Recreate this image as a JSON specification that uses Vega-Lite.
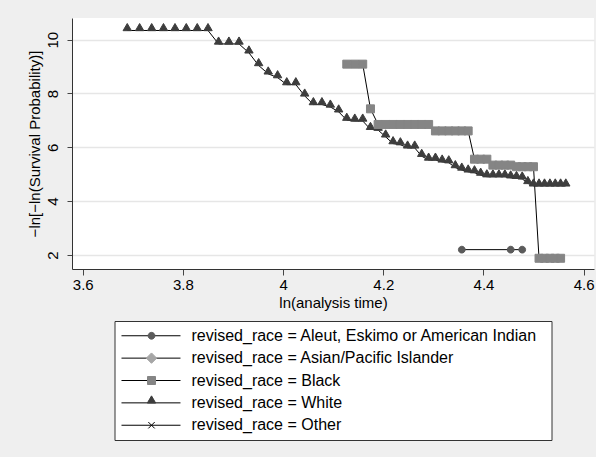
{
  "$schema": "https://vega.github.io/schema/vega-lite/v6.json",
  "background": "#efefef",
  "padding": {"left": 27, "top": 18, "right": 4, "bottom": 17},
  "bounds": "flush",
  "center": true,
  "spacing": 52,
  "config": {"font": "Liberation Sans", "view": {"stroke": null}},
  "datasets": {
    "km": [
      {"race": "White", "lnt": 3.6889, "lls": 10.34},
      {"race": "White", "lnt": 3.7136, "lls": 10.34},
      {"race": "White", "lnt": 3.7377, "lls": 10.34},
      {"race": "White", "lnt": 3.7612, "lls": 10.34},
      {"race": "White", "lnt": 3.7842, "lls": 10.34},
      {"race": "White", "lnt": 3.8067, "lls": 10.34},
      {"race": "White", "lnt": 3.8286, "lls": 10.34},
      {"race": "White", "lnt": 3.8501, "lls": 10.34},
      {"race": "White", "lnt": 3.8712, "lls": 9.84},
      {"race": "White", "lnt": 3.8918, "lls": 9.84},
      {"race": "White", "lnt": 3.912, "lls": 9.84},
      {"race": "White", "lnt": 3.9318, "lls": 9.51},
      {"race": "White", "lnt": 3.9512, "lls": 9.04},
      {"race": "White", "lnt": 3.9703, "lls": 8.73},
      {"race": "White", "lnt": 3.989, "lls": 8.59},
      {"race": "White", "lnt": 4.0073, "lls": 8.33},
      {"race": "White", "lnt": 4.0254, "lls": 8.33},
      {"race": "White", "lnt": 4.0431, "lls": 7.91},
      {"race": "White", "lnt": 4.0604, "lls": 7.59},
      {"race": "White", "lnt": 4.0775, "lls": 7.59},
      {"race": "White", "lnt": 4.0943, "lls": 7.5},
      {"race": "White", "lnt": 4.1109, "lls": 7.32},
      {"race": "White", "lnt": 4.1271, "lls": 7.01},
      {"race": "White", "lnt": 4.1431, "lls": 6.98},
      {"race": "White", "lnt": 4.1589, "lls": 6.98},
      {"race": "White", "lnt": 4.1744, "lls": 6.67},
      {"race": "White", "lnt": 4.1897, "lls": 6.64},
      {"race": "White", "lnt": 4.2047, "lls": 6.39},
      {"race": "White", "lnt": 4.2195, "lls": 6.14},
      {"race": "White", "lnt": 4.2341, "lls": 6.1},
      {"race": "White", "lnt": 4.2485, "lls": 5.98},
      {"race": "White", "lnt": 4.2627, "lls": 5.98},
      {"race": "White", "lnt": 4.2767, "lls": 5.67},
      {"race": "White", "lnt": 4.2905, "lls": 5.53},
      {"race": "White", "lnt": 4.3041, "lls": 5.53},
      {"race": "White", "lnt": 4.3175, "lls": 5.46},
      {"race": "White", "lnt": 4.3307, "lls": 5.43},
      {"race": "White", "lnt": 4.3438, "lls": 5.25},
      {"race": "White", "lnt": 4.3567, "lls": 5.16},
      {"race": "White", "lnt": 4.3694, "lls": 5.09},
      {"race": "White", "lnt": 4.382, "lls": 5.06},
      {"race": "White", "lnt": 4.3944, "lls": 4.97},
      {"race": "White", "lnt": 4.4067, "lls": 4.91},
      {"race": "White", "lnt": 4.4188, "lls": 4.91},
      {"race": "White", "lnt": 4.4308, "lls": 4.91},
      {"race": "White", "lnt": 4.4427, "lls": 4.91},
      {"race": "White", "lnt": 4.4543, "lls": 4.87},
      {"race": "White", "lnt": 4.4659, "lls": 4.85},
      {"race": "White", "lnt": 4.4773, "lls": 4.83},
      {"race": "White", "lnt": 4.4886, "lls": 4.66},
      {"race": "White", "lnt": 4.4998, "lls": 4.57},
      {"race": "White", "lnt": 4.5109, "lls": 4.57},
      {"race": "White", "lnt": 4.5218, "lls": 4.57},
      {"race": "White", "lnt": 4.5326, "lls": 4.57},
      {"race": "White", "lnt": 4.5433, "lls": 4.57},
      {"race": "White", "lnt": 4.5539, "lls": 4.57},
      {"race": "White", "lnt": 4.5643, "lls": 4.57},
      {"race": "Black", "lnt": 4.1271, "lls": 9.09},
      {"race": "Black", "lnt": 4.1431, "lls": 9.09},
      {"race": "Black", "lnt": 4.1589, "lls": 9.09},
      {"race": "Black", "lnt": 4.1744, "lls": 7.43},
      {"race": "Black", "lnt": 4.1897, "lls": 6.85},
      {"race": "Black", "lnt": 4.2047, "lls": 6.85},
      {"race": "Black", "lnt": 4.2195, "lls": 6.85},
      {"race": "Black", "lnt": 4.2341, "lls": 6.85},
      {"race": "Black", "lnt": 4.2485, "lls": 6.85},
      {"race": "Black", "lnt": 4.2627, "lls": 6.85},
      {"race": "Black", "lnt": 4.2767, "lls": 6.85},
      {"race": "Black", "lnt": 4.2905, "lls": 6.85},
      {"race": "Black", "lnt": 4.3041, "lls": 6.61},
      {"race": "Black", "lnt": 4.3175, "lls": 6.61},
      {"race": "Black", "lnt": 4.3307, "lls": 6.61},
      {"race": "Black", "lnt": 4.3438, "lls": 6.61},
      {"race": "Black", "lnt": 4.3567, "lls": 6.61},
      {"race": "Black", "lnt": 4.3694, "lls": 6.61},
      {"race": "Black", "lnt": 4.382, "lls": 5.56},
      {"race": "Black", "lnt": 4.3944, "lls": 5.56},
      {"race": "Black", "lnt": 4.4067, "lls": 5.56},
      {"race": "Black", "lnt": 4.4188, "lls": 5.34},
      {"race": "Black", "lnt": 4.4308, "lls": 5.34},
      {"race": "Black", "lnt": 4.4427, "lls": 5.34},
      {"race": "Black", "lnt": 4.4543, "lls": 5.34},
      {"race": "Black", "lnt": 4.4659, "lls": 5.28},
      {"race": "Black", "lnt": 4.4773, "lls": 5.28},
      {"race": "Black", "lnt": 4.4886, "lls": 5.28},
      {"race": "Black", "lnt": 4.4998, "lls": 5.28},
      {"race": "Black", "lnt": 4.5109, "lls": 1.88},
      {"race": "Black", "lnt": 4.5218, "lls": 1.88},
      {"race": "Black", "lnt": 4.5326, "lls": 1.88},
      {"race": "Black", "lnt": 4.5433, "lls": 1.88},
      {"race": "Black", "lnt": 4.5539, "lls": 1.88},
      {"race": "Aleut, Eskimo or American Indian", "lnt": 4.3567, "lls": 2.2},
      {"race": "Aleut, Eskimo or American Indian", "lnt": 4.4543, "lls": 2.2},
      {"race": "Aleut, Eskimo or American Indian", "lnt": 4.4773, "lls": 2.2}
    ],
    "legend": [
      {"race": "Aleut, Eskimo or American Indian", "label": "revised_race = Aleut, Eskimo or American Indian"},
      {"race": "Asian/Pacific Islander", "label": "revised_race = Asian/Pacific Islander"},
      {"race": "Black", "label": "revised_race = Black"},
      {"race": "White", "label": "revised_race = White"},
      {"race": "Other", "label": "revised_race = Other"}
    ]
  },
  "vconcat": [
    {
      "width": 522,
      "height": 251,
      "view": {"fill": "white", "stroke": null},
      "data": {"name": "km"},
      "encoding": {
        "x": {
          "field": "lnt", "type": "quantitative",
          "scale": {"domain": [3.5786, 4.6206], "nice": false, "zero": false},
          "axis": {
            "title": "ln(analysis time)", "values": [3.6, 3.8, 4, 4.2, 4.4, 4.6], "format": "~g",
            "grid": false, "domainColor": "#333", "domainWidth": 1, "tickColor": "#444", "tickSize": 6,
            "labelFontSize": 15, "labelColor": "#000", "labelPadding": 2, "labelFont": "Liberation Sans",
            "titleFontSize": 15, "titleFontWeight": "normal", "titleColor": "#000", "titleFont": "Liberation Sans",
            "titleBaseline": "top", "titlePadding": 3
          }
        },
        "y": {
          "field": "lls", "type": "quantitative",
          "scale": {"domain": [1.4815, 10.8037], "nice": false, "zero": false},
          "axis": {
            "title": "−ln[−ln(Survival Probability)]", "values": [2, 4, 6, 8, 10], "format": "d",
            "grid": true, "gridColor": "#e6e6e6", "gridWidth": 1.5,
            "domainColor": "#333", "domainWidth": 1, "tickColor": "#444", "tickSize": 5,
            "labelAngle": -90, "labelAlign": "center", "labelBaseline": "alphabetic", "labelPadding": 10,
            "labelFontSize": 15, "labelColor": "#000", "labelFont": "Liberation Sans",
            "titleFontSize": 15, "titleFontWeight": "normal", "titleColor": "#000", "titleFont": "Liberation Sans",
            "titlePadding": 3
          }
        }
      },
      "layer": [
        {
          "mark": {"type": "line", "color": "#000", "strokeWidth": 1},
          "encoding": {"detail": {"field": "race", "type": "nominal"}}
        },
        {
          "mark": {"type": "point", "filled": true, "opacity": 1, "strokeWidth": 1, "size": 64},
          "encoding": {
            "shape": {
              "field": "race", "type": "nominal", "legend": null,
              "scale": {
                "domain": ["Aleut, Eskimo or American Indian", "Asian/Pacific Islander", "Black", "White", "Other"],
                "range": ["M0.85,0A0.85,0.85,0,1,1,-0.85,0A0.85,0.85,0,1,1,0.85,0Z", "M0,-1.3L1.3,0L0,1.3L-1.3,0Z", "M-1,-1H1V1H-1Z", "M0,-1.75L1.05,0.05L-1.05,0.05Z", "M-0.8,-0.8L0.8,0.8M-0.8,0.8L0.8,-0.8"]
              }
            },
            "fill": {
              "field": "race", "type": "nominal", "legend": null,
              "scale": {
                "domain": ["Aleut, Eskimo or American Indian", "Asian/Pacific Islander", "Black", "White", "Other"],
                "range": ["#5b5b5b", "#a6a6a6", "#858585", "#3d3d3d", "#000000"]
              }
            },
            "stroke": {
              "field": "race", "type": "nominal", "legend": null,
              "scale": {
                "domain": ["Aleut, Eskimo or American Indian", "Asian/Pacific Islander", "Black", "White", "Other"],
                "range": ["#5b5b5b", "#a6a6a6", "#858585", "#3d3d3d", "#000000"]
              }
            }
          }
        }
      ]
    },
    {
      "width": 437,
      "height": 119,
      "view": {"fill": "white", "stroke": "#333", "strokeWidth": 1},
      "data": {"name": "legend"},
      "encoding": {
        "y": {
          "field": "race", "type": "nominal", "axis": null,
          "scale": {"type": "point", "padding": 0.66, "domain": ["Aleut, Eskimo or American Indian", "Asian/Pacific Islander", "Black", "White", "Other"]}
        }
      },
      "layer": [
        {
          "mark": {"type": "rule", "color": "#000", "strokeWidth": 1},
          "encoding": {
            "x": {"datum": 0.016, "type": "quantitative", "scale": {"domain": [0, 1], "nice": false, "zero": false}, "axis": null},
            "x2": {"datum": 0.151}
          }
        },
        {
          "mark": {"type": "point", "filled": true, "opacity": 1, "strokeWidth": 1, "size": 64},
          "encoding": {
            "x": {"datum": 0.0847, "type": "quantitative"},
            "shape": {
              "field": "race", "type": "nominal", "legend": null,
              "scale": {
                "domain": ["Aleut, Eskimo or American Indian", "Asian/Pacific Islander", "Black", "White", "Other"],
                "range": ["M0.85,0A0.85,0.85,0,1,1,-0.85,0A0.85,0.85,0,1,1,0.85,0Z", "M0,-1.3L1.3,0L0,1.3L-1.3,0Z", "M-1,-1H1V1H-1Z", "M0,-1.75L1.05,0.05L-1.05,0.05Z", "M-0.8,-0.8L0.8,0.8M-0.8,0.8L0.8,-0.8"]
              }
            },
            "fill": {
              "field": "race", "type": "nominal", "legend": null,
              "scale": {
                "domain": ["Aleut, Eskimo or American Indian", "Asian/Pacific Islander", "Black", "White", "Other"],
                "range": ["#5b5b5b", "#a6a6a6", "#858585", "#3d3d3d", "#000000"]
              }
            },
            "stroke": {
              "field": "race", "type": "nominal", "legend": null,
              "scale": {
                "domain": ["Aleut, Eskimo or American Indian", "Asian/Pacific Islander", "Black", "White", "Other"],
                "range": ["#5b5b5b", "#a6a6a6", "#858585", "#3d3d3d", "#000000"]
              }
            }
          }
        },
        {
          "mark": {"type": "text", "align": "left", "baseline": "middle", "fontSize": 16, "font": "Liberation Sans", "color": "#000"},
          "encoding": {
            "x": {"datum": 0.176, "type": "quantitative"},
            "text": {"field": "label", "type": "nominal"}
          }
        }
      ]
    }
  ]
}
